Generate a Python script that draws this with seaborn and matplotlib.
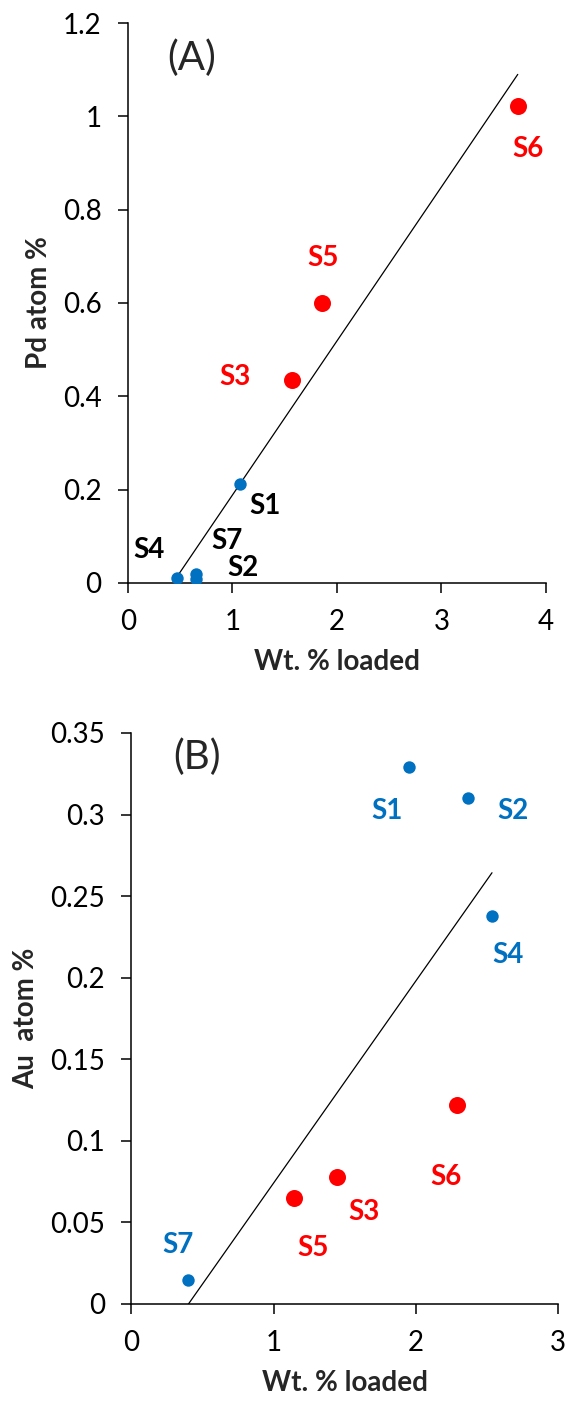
import numpy as np
import pandas as pd
import matplotlib
matplotlib.use("Agg")
import matplotlib.pyplot as plt
from matplotlib.ticker import FuncFormatter
import seaborn as sns

# ---------------- data ----------------
samples = ["S1", "S2", "S3", "S4", "S5", "S6", "S7"]
groups = ["blue", "blue", "red", "blue", "red", "red", "blue"]

pd_wt = [1.07, 0.65, 1.57, 0.47, 1.86, 3.73, 0.65]
pd_atom = [0.213, 0.009, 0.435, 0.011, 0.600, 1.022, 0.020]

au_wt = [1.955, 2.37, 1.449, 2.536, 1.146, 2.29, 0.40]
au_atom = [0.329, 0.310, 0.0776, 0.238, 0.0647, 0.1219, 0.0149]

# label positions (data coords)
pd_lab_x = [1.31, 1.10, 1.02, 0.20, 1.87, 3.83, 0.95]
pd_lab_y = [0.164, 0.032, 0.442, 0.071, 0.696, 0.931, 0.089]
au_lab_x = [1.80, 2.68, 1.634, 2.65, 1.275, 2.21, 0.33]
au_lab_y = [0.302, 0.302, 0.0565, 0.214, 0.034, 0.0776, 0.036]

pd_xticks = [0, 1, 2, 3, 4]
pd_yticks = [0, 0.2, 0.4, 0.6, 0.8, 1.0, 1.2]
au_xticks = [0, 1, 2, 3]
au_yticks = [0, 0.05, 0.1, 0.15, 0.2, 0.25, 0.3, 0.35]

RED = "#FF0000"
BLUE = "#0070C0"
FS = 20

sns.set_theme(style="ticks")
plt.rcParams["font.family"] = ["Lato", "DejaVu Sans"]

fig = plt.figure(figsize=(5.66, 14.03), dpi=100)
axA = fig.add_axes([0.2261, 0.5845, 0.7385, 0.3991])
axB = fig.add_axes([0.2323, 0.0706, 0.7535, 0.4070])

df_pd = pd.DataFrame({"s": samples, "g": groups, "x": pd_wt, "y": pd_atom})
df_au = pd.DataFrame({"s": samples, "g": groups, "x": au_wt, "y": au_atom})


def gfmt(v, pos):
    return "%g" % round(v, 3)


def draw(ax, df, lab_x, lab_y, label_colors, xlim, ylim, xticks, yticks, ylabel, tag, tagpos):
    sns.regplot(data=df, x="x", y="y", ax=ax, scatter=False, ci=None, truncate=True,
                line_kws=dict(color="black", lw=0.9))
    blue = df[df.g == "blue"]
    red = df[df.g == "red"]
    sns.scatterplot(data=blue, x="x", y="y", ax=ax, color=BLUE, s=80, linewidth=0, zorder=3)
    sns.scatterplot(data=red, x="x", y="y", ax=ax, color=RED, s=150, linewidth=0, zorder=3)
    for s, lx, ly, c in zip(df.s, lab_x, lab_y, label_colors):
        ax.text(lx, ly, s, color=c, fontsize=FS, fontweight="bold", ha="center", va="center")
    ax.text(tagpos[0], tagpos[1], tag, fontsize=29, ha="center", va="center")
    ax.set_xlim(*xlim)
    ax.set_ylim(*ylim)
    ax.set_xticks(xticks)
    ax.set_yticks(yticks)
    ax.xaxis.set_major_formatter(FuncFormatter(gfmt))
    ax.yaxis.set_major_formatter(FuncFormatter(gfmt))
    ax.tick_params(axis="both", direction="out", length=7, width=1.1, labelsize=FS,
                   color="black", labelcolor="black", pad=12)
    for side in ["top", "right"]:
        ax.spines[side].set_visible(False)
    for side in ["left", "bottom"]:
        ax.spines[side].set_linewidth(1.1)
        ax.spines[side].set_color("black")
    ax.set_xlabel("Wt. % loaded", fontsize=FS, fontweight="bold", labelpad=10)
    ax.set_ylabel(ylabel, fontsize=FS, fontweight="bold", labelpad=8)


pd_label_colors = ["black" if g == "blue" else RED for g in groups]
au_label_colors = [BLUE if g == "blue" else RED for g in groups]

draw(axA, df_pd, pd_lab_x, pd_lab_y, pd_label_colors, (0, 4), (0, 1.2),
     pd_xticks, pd_yticks, "Pd atom %", "(A)", (0.61, 1.124))
draw(axB, df_au, au_lab_x, au_lab_y, au_label_colors, (0, 3), (0, 0.35),
     au_xticks, au_yticks, "Au  atom %", "(B)", (0.46, 0.335))

fig.savefig("out.png", dpi=100)
